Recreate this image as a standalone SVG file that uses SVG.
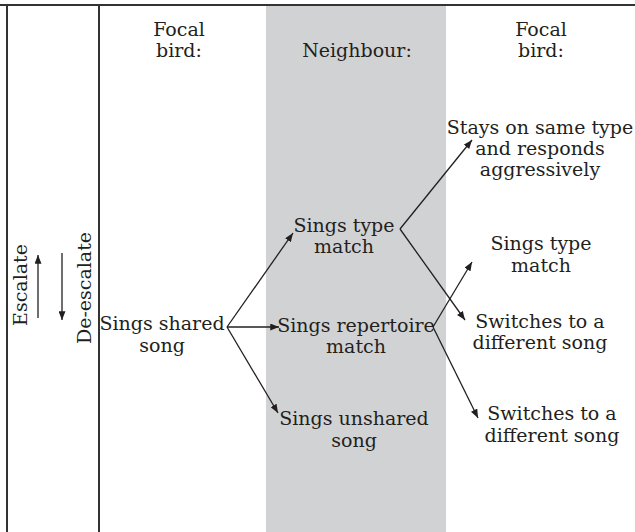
<svg xmlns="http://www.w3.org/2000/svg" width="635" height="532" viewBox="0 0 635 532">
<style>
text{font-family:"DejaVu Serif","Liberation Serif",serif;font-size:19px;fill:#231f20;text-anchor:middle}
.c{stroke:#231f20;stroke-width:1.3;fill:none}
.b{stroke:#333;stroke-width:2;fill:none}
</style>
<defs>
<marker id="ah" viewBox="0 0 10 8" refX="10" refY="4" markerWidth="9" markerHeight="7" markerUnits="userSpaceOnUse" orient="auto">
<path d="M0,0 L10,4 L0,8 Z" fill="#231f20"/>
</marker>
</defs>
<rect id="band" x="266" y="6" width="180" height="526" fill="#d1d2d4"/>
<g id="frame">
<path class="b" d="M0,5 H635 M7,5 V532 M99,5 V532"/>
</g>
<g id="headers">
<text x="179" y="36">Focal</text><text x="179" y="57">bird:</text>
<text x="357" y="57">Neighbour:</text>
<text x="541" y="36">Focal</text><text x="541" y="57">bird:</text>
</g>
<g id="scale">
<text transform="translate(27,285) rotate(-90)">Escalate</text>
<text transform="translate(91,288) rotate(-90)">De-escalate</text>
</g>
<g id="n-shared"><text x="162" y="330">Sings shared</text><text x="162" y="352">song</text></g>
<g id="n-type"><text x="344" y="232">Sings type</text><text x="344" y="253">match</text></g>
<g id="n-rep"><text x="356" y="332">Sings repertoire</text><text x="356" y="353">match</text></g>
<g id="n-unshared"><text x="354" y="425">Sings unshared</text><text x="354" y="447">song</text></g>
<g id="n-stays"><text x="540" y="134">Stays on same type</text><text x="540" y="155">and responds</text><text x="540" y="176">aggressively</text></g>
<g id="n-ftype"><text x="541" y="250">Sings type</text><text x="541" y="272">match</text></g>
<g id="n-switch1"><text x="540" y="328">Switches to a</text><text x="540" y="349">different song</text></g>
<g id="n-switch2"><text x="552" y="420">Switches to a</text><text x="552" y="442">different song</text></g>
<g id="connectors">
<path class="c" d="M38,318 V255" marker-end="url(#ah)"/>
<path class="c" d="M62,253 V320" marker-end="url(#ah)"/>
<path class="c" d="M227,327 L293,233" marker-end="url(#ah)"/>
<path class="c" d="M227,327 L279,327" marker-end="url(#ah)"/>
<path class="c" d="M227,327 L278,413" marker-end="url(#ah)"/>
<path class="c" d="M400,229 L472,140" marker-end="url(#ah)"/>
<path class="c" d="M400,229 L465,320" marker-end="url(#ah)"/>
<path class="c" d="M433,327 L472,262" marker-end="url(#ah)"/>
<path class="c" d="M433,327 L478,418" marker-end="url(#ah)"/>
</g>
</svg>
